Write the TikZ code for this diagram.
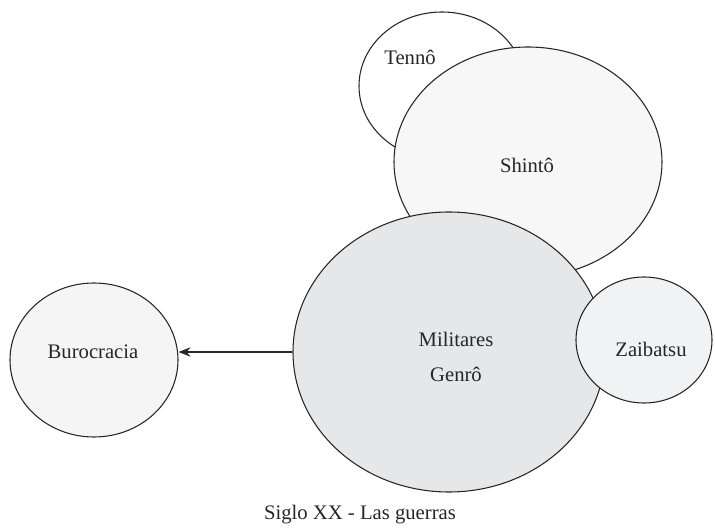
\documentclass[tikz,border=0pt]{standalone}
\usepackage{fontspec}
\setmainfont{Liberation Serif}
\usepackage{tikz}
\usetikzlibrary{
  shapes.geometric
  , arrows.meta
}

\definecolor{tennofill}{HTML}{FFFFFF}
\definecolor{shintofill}{HTML}{F7F7F7}
\definecolor{milfill}{HTML}{E6E7E9}
\definecolor{zaifill}{HTML}{F1F2F4}
\definecolor{burofill}{HTML}{F5F5F6}

\tikzset{
  blob/.style={ellipse, draw=black!85, line width=0.8pt, inner sep=0pt},
  word/.style={font=\fontsize{15.5}{26}\selectfont, text=black!85, align=center}
}

\begin{document}
\begin{tikzpicture}[x=0.75pt,y=-0.75pt]
      \useasboundingbox (0,0) rectangle (715,531);

      \node [blob,
        fill=tennofill,
        minimum width = 124.5pt,
        minimum height = 111pt] (tenno) at (442,86) {};
      \node [blob,
        fill=shintofill,
        minimum width = 201pt,
        minimum height = 172.5pt] (shinto) at (528,162) {};
      \node [blob,
        fill=milfill,
        minimum width = 234pt,
        minimum height = 210pt] (mil) at (449,352) {};
      \node [blob,
        fill=zaifill,
        minimum width = 102pt,
        minimum height = 94.5pt] (zai) at (644,340) {};
      \node [blob,
        fill=burofill,
        minimum width = 126pt,
        minimum height = 115.5pt] (buro) at (94,360) {};

      \node [word] (tennotxt) at (410,57) {Tennô};
      \node [word] (shintotxt) at (527,165) {Shintô};
      \node [word] (miltxt) at (456,357) {Militares\\Genrô};
      \node [word] (zaitxt) at (651,349) {Zaibatsu};
      \node [word] (burotxt) at (93,352) {Burocracia};

      \draw [line width=0.8pt, draw=black!85,
        -{Stealth[length=9pt, width=7pt, inset=3pt]}]
        (mil.west) -- (mil.west -| buro.east);

      \node [word] (caption) at (360,515) {Siglo XX - Las guerras};
    \end{tikzpicture}
\end{document}
